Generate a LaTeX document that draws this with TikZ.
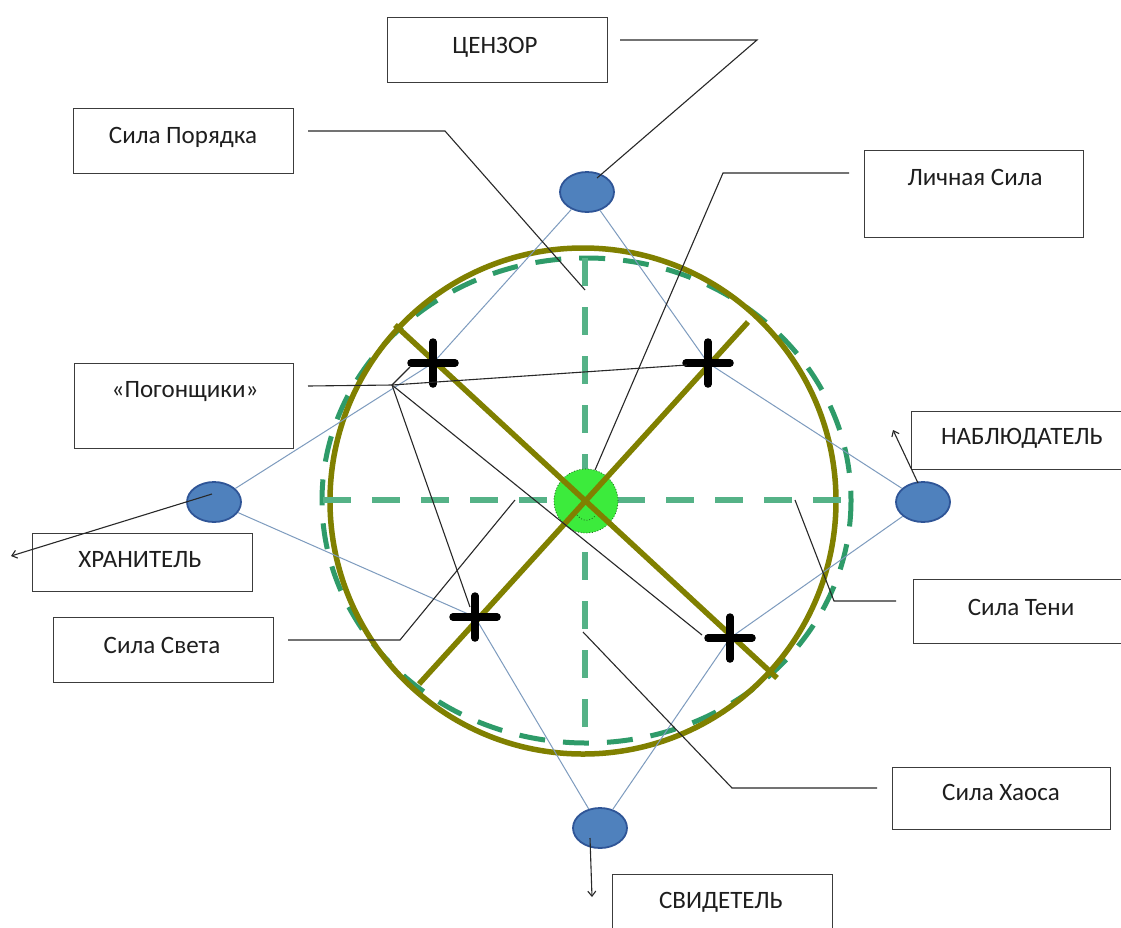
\documentclass[tikz,border=0pt]{standalone}
\usepackage{fontspec}
\setmainfont{Carlito}
\usetikzlibrary{shapes.geometric,arrows.meta}
\definecolor{olivec}{RGB}{128,128,0}
\definecolor{seag}{RGB}{46,155,105}
\definecolor{seal}{RGB}{85,178,135}
\definecolor{brightg}{RGB}{60,235,60}
\definecolor{coreedge}{RGB}{30,90,30}
\definecolor{nodeblue}{RGB}{79,129,189}
\definecolor{nodeedge}{RGB}{47,85,151}
\definecolor{thinb}{RGB}{125,155,190}
\definecolor{leadc}{RGB}{40,40,40}
\definecolor{boxc}{RGB}{60,60,60}
\definecolor{txtc}{RGB}{30,30,30}
\begin{document}
\begin{tikzpicture}[x=1pt,y=-1pt,
  box/.style={draw=boxc,line width=1.4pt,rectangle,inner sep=0pt,anchor=north west},
  lbl/.style={font=\fontsize{25}{28}\selectfont,text=txtc,inner sep=0pt,anchor=base},
  actor/.style={ellipse,draw=nodeedge,line width=1.8pt,fill=nodeblue,minimum width=54pt,minimum height=40pt,inner sep=0pt},
  core/.style={circle,fill=brightg,draw=coreedge,dotted,line width=0.8pt,minimum size=64pt,inner sep=0pt},
  olive/.style={draw=olivec,line width=5.5pt},
  gdash/.style={draw=seal,line width=6pt,dash pattern=on 28pt off 21pt},
  gring/.style={draw=seag,line width=5pt,dash pattern=on 26pt off 18pt},
  thinblue/.style={draw=thinb,line width=1pt},
  leader/.style={draw=leadc,line width=1.1pt},
  tip/.style={-{Straight Barb[length=5pt,width=8pt]}},
  plusmark/.style={draw=black,line width=7.5pt,line cap=round}
]
\useasboundingbox (0,0) rectangle (1121,927);
\fill[white] (0,0) rectangle (1121,927);
\clip (0,0) rectangle (1121,927);

% rings and axes
\draw[gring] (586.5,500.5) ellipse [x radius=264.5, y radius=242.5];
\draw[olive] (583,501) circle [radius=253];
\draw[gdash] (323,500) -- (841,500);
\draw[gdash] (585,258) -- (585,745);

% centre
\node[core] (ctr) at (586,501) {};
\draw[coreedge,dotted,line width=0.8pt] (577,515) .. controls (583,522) and (590,522) .. (596,515);

% olive cross
\draw[olive] (395,325) -- (777,678);
\draw[olive] (748,322) -- (419,684);

% plus positions
\coordinate (p1) at (433,363);
\coordinate (p2) at (708,363);
\coordinate (p3) at (475,617);
\coordinate (p4) at (730,638);

% actors
\node[actor] (top) at (587,192) {};
\node[actor] (left) at (214,502) {};
\node[actor] (right) at (923,502) {};
\node[actor] (bottom) at (600,828) {};

\draw[thinblue] (left) -- (p1) -- (top);
\draw[thinblue] (top) -- (p2) -- (right);
\draw[thinblue] (right) -- (p4) -- (bottom);
\draw[thinblue] (left) -- (p3) -- (bottom);

% plus marks
\foreach \p in {p1,p2,p3,p4}{
  \draw[plusmark] ([xshift=-22pt]\p) -- ([xshift=22pt]\p);
  \draw[plusmark] ([yshift=-21pt]\p) -- ([yshift=21pt]\p);
}

% boxes
\node[box,minimum width=220pt,minimum height=65pt] (bcenz) at (387,17) {};
\node[lbl] (tcenz) at (495,53) {ЦЕНЗОР};
\node[box,minimum width=220pt,minimum height=65pt] (bpor) at (73,108) {};
\node[lbl] (tpor) at (183,143) {Сила Порядка};
\node[box,minimum width=219pt,minimum height=87pt] (blich) at (864,150) {};
\node[lbl] (tlich) at (975,185) {Личная Сила};
\node[box,minimum width=219pt,minimum height=85pt] (bpog) at (74,363) {};
\node[lbl] (tpog) at (185,397) {«Погонщики»};
\node[box,minimum width=220pt,minimum height=58pt] (bkhr) at (32,533) {};
\node[lbl] (tkhr) at (140,567) {ХРАНИТЕЛЬ};
\node[box,minimum width=220pt,minimum height=65pt] (bsv) at (53,617) {};
\node[lbl] (tsv) at (162,653) {Сила Света};
\node[box,minimum width=222pt,minimum height=58pt] (bnab) at (911,411) {};
\node[lbl] (tnab) at (1022,444) {НАБЛЮДАТЕЛЬ};
\node[box,minimum width=220pt,minimum height=64pt] (bten) at (913,579) {};
\node[lbl] (tten) at (1021,615) {Сила Тени};
\node[box,minimum width=218pt,minimum height=62pt] (bkha) at (892,767) {};
\node[lbl] (tkha) at (1001,800) {Сила Хаоса};
\node[box,minimum width=220pt,minimum height=80pt] (bsvid) at (612,874) {};
\node[lbl] (tsvid) at (721,908) {СВИДЕТЕЛЬ};

% leader points
\coordinate (cz0) at (620,40);  \coordinate (cz1) at (757,40);  \coordinate (cz2) at (597,178);
\coordinate (po0) at (308,131); \coordinate (po1) at (445,131); \coordinate (po2) at (585,290);
\coordinate (li0) at (849,173); \coordinate (li1) at (723,173); \coordinate (li2) at (595,470);
\coordinate (pg0) at (308,386); \coordinate (hub) at (392,385);
\coordinate (pg1) at (410,367); \coordinate (pg2) at (687,365);
\coordinate (pg3) at (470,607); \coordinate (pg4) at (702,635);
\coordinate (kh0) at (212,494); \coordinate (kh1) at (11,556);
\coordinate (nb0) at (918,483); \coordinate (nb1) at (893,430);
\coordinate (te0) at (896,601); \coordinate (te1) at (834,601); \coordinate (te2) at (795,500);
\coordinate (sv0) at (288,640); \coordinate (sv1) at (400,640); \coordinate (sv2) at (515,500);
\coordinate (ha0) at (877,788); \coordinate (ha1) at (732,788); \coordinate (ha2) at (583,632);
\coordinate (sd0) at (590,838); \coordinate (sd1) at (592,897);

\draw[leader] (cz0) -- (cz1) -- (cz2);
\draw[leader] (po0) -- (po1) -- (po2);
\draw[leader] (li0) -- (li1) -- (li2);
\draw[leader] (pg0) -- (hub);
\draw[leader] (hub) -- (pg1);
\draw[leader] (hub) -- (pg2);
\draw[leader] (hub) -- (pg3);
\draw[leader] (hub) -- (pg4);
\draw[leader,tip] (kh0) -- (kh1);
\draw[leader,tip] (nb0) -- (nb1);
\draw[leader] (te0) -- (te1) -- (te2);
\draw[leader] (sv0) -- (sv1) -- (sv2);
\draw[leader] (ha0) -- (ha1) -- (ha2);
\draw[leader,tip] (sd0) -- (sd1);
\end{tikzpicture}
\end{document}
